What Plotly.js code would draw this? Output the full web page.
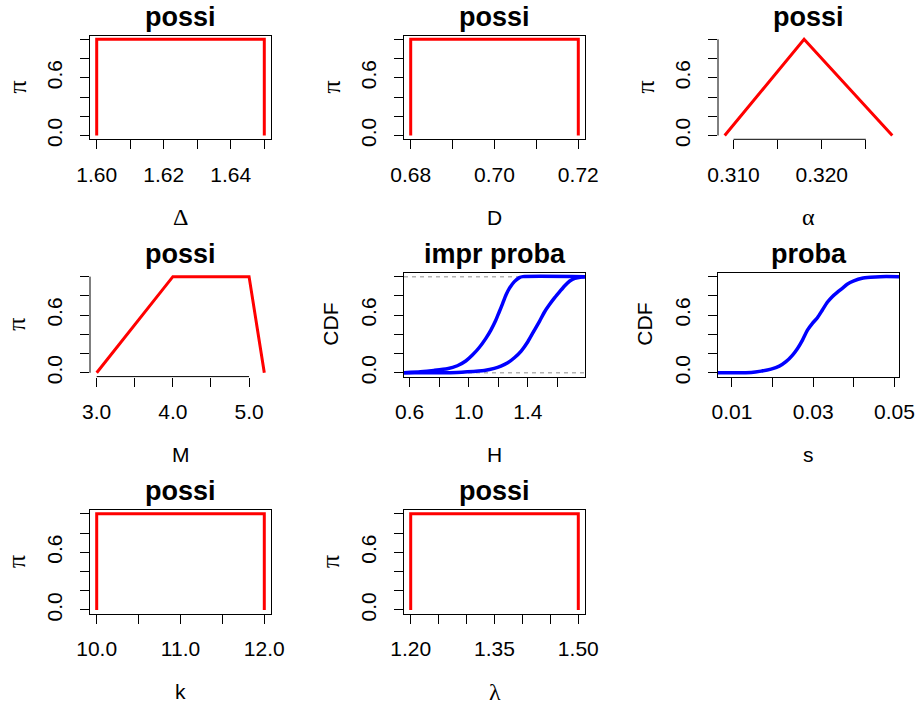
<!DOCTYPE html>
<html>
<head>
<meta charset="utf-8">
<script src="https://cdn.plot.ly/plotly-3.0.1.min.js"></script>
<style>html,body{margin:0;padding:0;background:#fff}#plot{width:918px;height:704px}</style>
</head>
<body>
<div id="plot"></div>
<script>
// ---------- data ----------
const titles = ['possi','possi','possi','possi','impr proba','proba','possi','possi'];
const xLabels = ['\u0394','D','\u03b1','M','H','s','k','\u03bb'];
const yLabels = ['\u03c0','\u03c0','\u03c0','\u03c0','CDF','CDF','\u03c0','\u03c0'];

const deltaX = [1.60, 1.60, 1.65, 1.65];
const deltaY = [0, 1, 1, 0];
const dX = [0.68, 0.68, 0.72, 0.72];
const dY = [0, 1, 1, 0];
const alphaX = [0.309, 0.318, 0.328];
const alphaY = [0, 1, 0];
const mX = [3.0, 4.0, 5.0, 5.2];
const mY = [0, 1, 1, 0];
const hLowX = [0.562, 0.673, 0.764, 0.855, 0.923, 0.980, 1.025, 1.070, 1.116, 1.150, 1.184, 1.207, 1.230, 1.252, 1.275, 1.309, 1.343, 1.366, 1.787];
const hLowY = [0, 0.010, 0.024, 0.042, 0.073, 0.122, 0.184, 0.260, 0.358, 0.444, 0.549, 0.635, 0.722, 0.809, 0.878, 0.948, 0.990, 1, 1];
const hUpX = [0.562, 0.877, 0.991, 1.105, 1.173, 1.218, 1.264, 1.309, 1.355, 1.400, 1.445, 1.480, 1.514, 1.548, 1.582, 1.616, 1.650, 1.684, 1.718, 1.764, 1.787];
const hUpY = [0, 0, 0.010, 0.024, 0.045, 0.069, 0.104, 0.156, 0.226, 0.323, 0.444, 0.538, 0.635, 0.712, 0.781, 0.844, 0.906, 0.955, 0.983, 0.997, 1];
const sX = [0.00656, 0.01065, 0.01473, 0.01717, 0.01961, 0.02165, 0.02328, 0.02491, 0.02613, 0.02735, 0.02857, 0.02980, 0.03102, 0.03224, 0.03346, 0.03468, 0.03590, 0.03713, 0.03835, 0.03998, 0.04201, 0.04405, 0.04649, 0.0511];
const sY = [0, 0, 0.003, 0.017, 0.038, 0.069, 0.115, 0.184, 0.253, 0.340, 0.444, 0.514, 0.573, 0.653, 0.733, 0.792, 0.837, 0.878, 0.920, 0.955, 0.983, 0.993, 1, 1];
const kX = [10, 10, 12, 12];
const kY = [0, 1, 1, 0];
const lamX = [1.20, 1.20, 1.50, 1.50];
const lamY = [0, 1, 1, 0];

const xTickVals = [
  [1.60, 1.61, 1.62, 1.63, 1.64, 1.65],
  [0.68, 0.69, 0.70, 0.71, 0.72],
  [0.310, 0.315, 0.320, 0.325],
  [3.0, 3.5, 4.0, 4.5, 5.0],
  [0.6, 0.8, 1.0, 1.2, 1.4, 1.6],
  [0.01, 0.02, 0.03, 0.04, 0.05],
  [10.0, 10.5, 11.0, 11.5, 12.0],
  [1.20, 1.25, 1.30, 1.35, 1.40, 1.45, 1.50]
];
const xTickText = [
  ['1.60', '', '1.62', '', '1.64', ''],
  ['0.68', '', '0.70', '', '0.72'],
  ['0.310', '', '0.320', ''],
  ['3.0', '', '4.0', '', '5.0'],
  ['0.6', '', '1.0', '', '1.4', ''],
  ['0.01', '', '0.03', '', '0.05'],
  ['10.0', '', '11.0', '', '12.0'],
  ['1.20', '', '', '1.35', '', '', '1.50']
];
const yTickVals = [0, 0.2, 0.4, 0.6, 0.8, 1.0];
const yTickText = ['0.0', '', '', '0.6', '', ''];

// ---------- layout geometry ----------
const W = 918, H = 704;
const colLeft = [90, 404, 718], rowTop = [35.5, 272.8, 510], pw = 181, ph = 103.8;
const pos = [[0,0],[0,1],[0,2],[1,0],[1,1],[1,2],[2,0],[2,1]];
const boxed = [true, true, false, false, true, true, true, true];

function padRange(arr) {
  const mn = Math.min(...arr), mx = Math.max(...arr), p = 0.04 * (mx - mn);
  return [mn - p, mx + p];
}
const xRanges = [
  padRange(deltaX), padRange(dX), padRange(alphaX), padRange(mX),
  [0.562, 1.787], [0.00656, 0.0511], padRange(kX), padRange(lamX)
];

const RED = '#ff0000', BLUE = '#0000ff';
const FONT = 'Liberation Sans, Arial, sans-serif';
const SERIF = 'Liberation Serif, serif';
const traces = [
  {x: deltaX, y: deltaY, c: RED, p: 1},
  {x: dX, y: dY, c: RED, p: 2},
  {x: alphaX, y: alphaY, c: RED, p: 3},
  {x: mX, y: mY, c: RED, p: 4},
  {x: hLowX, y: hLowY, c: BLUE, p: 5},
  {x: hUpX, y: hUpY, c: BLUE, p: 5},
  {x: sX, y: sY, c: BLUE, p: 6},
  {x: kX, y: kY, c: RED, p: 7},
  {x: lamX, y: lamY, c: RED, p: 8}
].map(t => ({
  x: t.x, y: t.y, type: 'scatter', mode: 'lines',
  xaxis: 'x' + (t.p === 1 ? '' : t.p), yaxis: 'y' + (t.p === 1 ? '' : t.p),
  line: {color: t.c, width: t.c === RED ? 3 : 3.5, shape: t.c === RED ? 'linear' : 'spline', smoothing: 0.5},
  hoverinfo: 'skip', showlegend: false
}));

const layout = {
  width: W, height: H, margin: {l: 0, r: 0, t: 0, b: 0},
  paper_bgcolor: '#fff', plot_bgcolor: 'rgba(0,0,0,0)',
  showlegend: false, annotations: [], shapes: [],
  font: {family: FONT, color: '#000', size: 21}
};

for (let i = 0; i < 8; i++) {
  const [r, c] = pos[i];
  const n = i + 1, sfx = n === 1 ? '' : n;
  const x0 = colLeft[c], y0 = rowTop[r];
  const xd = [x0 / W, (x0 + pw) / W];
  const yd = [1 - (y0 + ph) / H, 1 - y0 / H];
  const common = {
    showgrid: false, zeroline: false, ticks: 'outside', ticklen: 9, tickwidth: 1, tickcolor: '#000',
    tickfont: {family: FONT, size: 21, color: '#000'},
    showline: boxed[i], mirror: boxed[i], linecolor: '#000', linewidth: 1, fixedrange: true
  };
  layout['xaxis' + sfx] = Object.assign({}, common, {
    domain: xd, range: xRanges[i], anchor: 'y' + sfx, ticklabelstandoff: 7,
    tickmode: 'array', tickvals: xTickVals[i], ticktext: xTickText[i], tickangle: 0
  });
  layout['yaxis' + sfx] = Object.assign({}, common, {
    domain: yd, range: [-0.04, 1.04], anchor: 'x' + sfx, ticklabelstandoff: 10,
    tickmode: 'array', tickvals: yTickVals, ticktext: yTickText, tickangle: -90
  });
  if (!boxed[i]) {
    const xv = xTickVals[i];
    layout.shapes.push({type: 'line', xref: 'x' + sfx, yref: 'y' + sfx + ' domain',
      x0: xv[0], x1: xv[xv.length - 1], y0: 0, y1: 0, line: {color: '#000', width: 1}});
    layout.shapes.push({type: 'line', xref: 'x' + sfx + ' domain', yref: 'y' + sfx,
      x0: 0, x1: 0, y0: yTickVals[0], y1: yTickVals[yTickVals.length - 1], line: {color: '#000', width: 1}});
  }
  const cx = (x0 + pw / 2) / W;
  const greekX = /[\u0370-\u03ff]/.test(xLabels[i]);
  const greekY = /[\u0370-\u03ff]/.test(yLabels[i]);
  layout.annotations.push({
    text: '<b>' + titles[i] + '</b>', xref: 'paper', yref: 'paper', x: cx, y: 1 - (y0 - 19) / H,
    xanchor: 'center', yanchor: 'middle', showarrow: false, font: {family: FONT, size: 27, color: '#000'}
  });
  layout.annotations.push({
    text: xLabels[i], xref: 'paper', yref: 'paper', x: cx, y: 1 - (y0 + ph + 78) / H,
    xanchor: 'center', yanchor: 'middle', showarrow: false,
    font: {family: greekX ? SERIF : FONT, size: greekX ? 24 : 21, color: '#000'}
  });
  layout.annotations.push({
    text: yLabels[i], xref: 'paper', yref: 'paper', x: (x0 - 73) / W, y: 1 - (y0 + ph / 2) / H,
    xanchor: 'center', yanchor: 'middle', showarrow: false, textangle: -90,
    font: {family: greekY ? SERIF : FONT, size: greekY ? 26 : 21, color: '#000'}
  });
}

// ecdf reference lines at 0 and 1 in the "impr proba" panel
[0, 1].forEach(v => layout.shapes.push({
  type: 'line', xref: 'x5 domain', yref: 'y5', x0: 0, x1: 1, y0: v, y1: v, layer: 'below',
  line: {color: '#b3b3b3', width: 1.5, dash: '4px,4px'}
}));

Plotly.newPlot('plot', traces, layout, {staticPlot: true, displayModeBar: false});
</script>
</body>
</html>
